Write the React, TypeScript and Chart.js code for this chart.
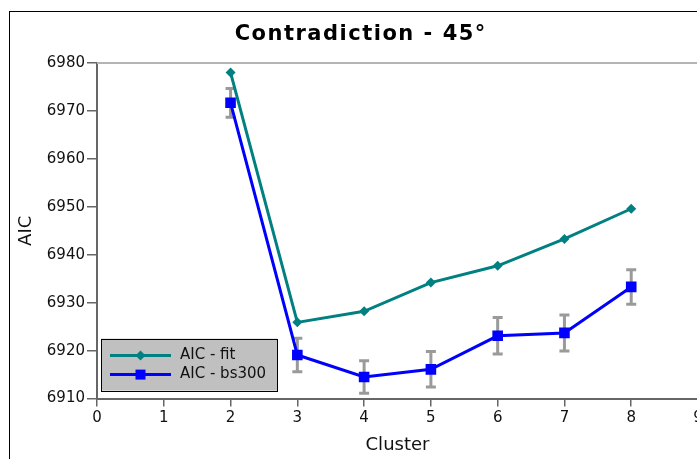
import React, { useEffect, useRef } from 'react';
import { Chart, registerables } from 'chart.js';

Chart.register(...registerables);

const TITLE = 'Contradiction - 45°';
const X_TITLE = 'Cluster';
const Y_TITLE = 'AIC';
const CLUSTERS = [2, 3, 4, 5, 6, 7, 8];
const AIC_FIT = [6978.0, 6925.9, 6928.2, 6934.2, 6937.7, 6943.3, 6949.6];
const AIC_BS300 = [6971.7, 6919.1, 6914.5, 6916.1, 6923.1, 6923.7, 6933.3];
const AIC_BS300_ERR = [3.0, 3.5, 3.4, 3.7, 3.8, 3.75, 3.6];
const SERIES_LABELS = ['AIC - fit', 'AIC - bs300'];
const X_MIN = 0;
const X_MAX = 9;
const Y_MIN = 6910;
const Y_MAX = 6980;

const TEAL = '#008080';
const BLUE = '#0000ff';
const ERR_COLOR = '#9a9a9a';
const AXIS_COLOR = '#666666';
const FONT = '"DejaVu Sans", sans-serif';

const titlePlugin = {
  id: 'customTitle',
  afterDraw(chart: any) {
    const ctx = chart.ctx;
    ctx.save();
    ctx.font = `bold 21px ${FONT}`;
    (ctx as any).letterSpacing = '1.5px';
    ctx.fillStyle = '#000';
    ctx.textAlign = 'center';
    ctx.textBaseline = 'alphabetic';
    ctx.fillText(TITLE, chart.width / 2 + 0.75, 27.5);
    ctx.restore();
  },
};

const frameTopPlugin = {
  id: 'frameTop',
  afterDraw(chart: any) {
    const { ctx, chartArea } = chart;
    ctx.save();
    ctx.strokeStyle = '#b4b4b4';
    ctx.lineWidth = 2;
    ctx.beginPath();
    ctx.moveTo(chartArea.left, chartArea.top);
    ctx.lineTo(chart.width, chartArea.top);
    ctx.stroke();
    ctx.restore();
  },
};

const errorBarPlugin = {
  id: 'errorBars',
  beforeDatasetsDraw(chart: any) {
    const { ctx, scales } = chart;
    const xs = scales.x;
    const ys = scales.y;
    ctx.save();
    ctx.strokeStyle = ERR_COLOR;
    ctx.lineWidth = 3;
    ctx.lineCap = 'butt';
    CLUSTERS.forEach((c, i) => {
      const px = xs.getPixelForValue(c);
      const y1 = ys.getPixelForValue(AIC_BS300[i] + AIC_BS300_ERR[i]);
      const y2 = ys.getPixelForValue(AIC_BS300[i] - AIC_BS300_ERR[i]);
      ctx.beginPath();
      ctx.moveTo(px, y1);
      ctx.lineTo(px, y2);
      ctx.moveTo(px - 5, y1);
      ctx.lineTo(px + 5, y1);
      ctx.moveTo(px - 5, y2);
      ctx.lineTo(px + 5, y2);
      ctx.stroke();
    });
    ctx.restore();
  },
};

function drawMarker(ctx: CanvasRenderingContext2D, style: string, x: number, y: number, color: string) {
  ctx.fillStyle = color;
  ctx.beginPath();
  if (style === 'rectRot') {
    ctx.moveTo(x, y - 5);
    ctx.lineTo(x + 5, y);
    ctx.lineTo(x, y + 5);
    ctx.lineTo(x - 5, y);
  } else {
    ctx.rect(x - 5, y - 5, 10, 10);
  }
  ctx.closePath();
  ctx.fill();
}

const legendPlugin = {
  id: 'boxLegend',
  afterDatasetsDraw(chart: any) {
    const { ctx, chartArea } = chart;
    const bx = chartArea.left + 4;
    const bw = 176;
    const bh = 52;
    const by = chartArea.bottom - 8 - bh;
    ctx.save();
    ctx.fillStyle = '#c0c0c0';
    ctx.fillRect(bx, by, bw, bh);
    ctx.strokeStyle = '#000';
    ctx.lineWidth = 1;
    ctx.strokeRect(Math.round(bx) + 0.5, Math.round(by) + 0.5, bw, bh);
    chart.data.datasets.forEach((ds: any, i: number) => {
      const cy = by + 17 + i * 19;
      ctx.strokeStyle = ds.borderColor;
      ctx.lineWidth = 3;
      ctx.beginPath();
      ctx.moveTo(bx + 9, cy);
      ctx.lineTo(bx + 70, cy);
      ctx.stroke();
      drawMarker(ctx, ds.pointStyle, bx + 39.5, cy, ds.borderColor);
      ctx.fillStyle = '#111';
      ctx.font = `15px ${FONT}`;
      ctx.textAlign = 'left';
      ctx.textBaseline = 'middle';
      ctx.fillText(ds.label, bx + 79, cy);
    });
    ctx.restore();
  },
};

export default function App() {
  const canvasRef = useRef<HTMLCanvasElement | null>(null);

  useEffect(() => {
    if (!canvasRef.current) return;
    const chart = new Chart(canvasRef.current, {
      type: 'line',
      data: {
        datasets: [
          {
            label: SERIES_LABELS[0],
            data: CLUSTERS.map((c, i) => ({ x: c, y: AIC_FIT[i] })),
            borderColor: TEAL,
            backgroundColor: TEAL,
            borderWidth: 3,
            pointStyle: 'rectRot',
            pointRadius: 5,
            pointBorderWidth: 0,
            tension: 0,
          },
          {
            label: SERIES_LABELS[1],
            data: CLUSTERS.map((c, i) => ({ x: c, y: AIC_BS300[i] })),
            borderColor: BLUE,
            backgroundColor: BLUE,
            borderWidth: 3,
            pointStyle: 'rect',
            pointRadius: 7.5,
            pointBorderWidth: 0,
            tension: 0,
          },
        ],
      },
      options: {
        animation: false,
        responsive: false,
        maintainAspectRatio: false,
        devicePixelRatio: 1,
        layout: { padding: { left: 0, top: 51, right: 12, bottom: 23.4 } },
        plugins: {
          legend: { display: false },
          title: { display: false },
          tooltip: { enabled: false },
        },
        scales: {
          x: {
            type: 'linear',
            min: X_MIN,
            max: X_MAX,
            afterFit: (scale: any) => {
              scale.height = 60;
            },
            ticks: {
              stepSize: 1,
              padding: 3,
              color: '#111',
              font: { family: FONT, size: 15 },
              callback: (v: any) => String(v),
            },
            grid: {
              drawOnChartArea: false,
              drawTicks: true,
              tickLength: 8,
              color: AXIS_COLOR,
              lineWidth: 1.5,
            },
            border: { display: true, color: AXIS_COLOR, width: 2 },
            title: {
              display: true,
              text: X_TITLE,
              color: '#111',
              font: { family: FONT, size: 18 },
              padding: { top: 0, bottom: 2 },
            },
          },
          y: {
            type: 'linear',
            min: Y_MIN,
            max: Y_MAX,
            afterFit: (scale: any) => {
              scale.width = 87;
            },
            ticks: {
              stepSize: 10,
              padding: 2,
              color: '#111',
              font: { family: FONT, size: 15 },
              callback: (v: any) => String(v),
            },
            grid: {
              drawOnChartArea: false,
              drawTicks: true,
              tickLength: 10,
              color: AXIS_COLOR,
              lineWidth: 1.5,
            },
            border: { display: true, color: AXIS_COLOR, width: 2 },
            title: {
              display: true,
              text: Y_TITLE,
              color: '#111',
              font: { family: FONT, size: 18 },
              padding: { top: 6, bottom: 0 },
            },
          },
        },
      },
      plugins: [errorBarPlugin, legendPlugin, frameTopPlugin, titlePlugin],
    } as any);
    return () => chart.destroy();
  }, []);

  return (
    <div
      style={{
        position: 'fixed',
        left: 0,
        top: 0,
        width: 697,
        height: 459,
        overflow: 'hidden',
        background: '#fff',
      }}
    >
      <div
        style={{
          position: 'absolute',
          left: 9,
          top: 11,
          width: 702,
          height: 480,
          border: '1px solid #000',
          boxSizing: 'border-box',
        }}
      >
        <canvas
          ref={canvasRef}
          width={700}
          height={470}
          style={{ position: 'absolute', left: 0, top: 0, width: 700, height: 470 }}
        />
      </div>
    </div>
  );
}
